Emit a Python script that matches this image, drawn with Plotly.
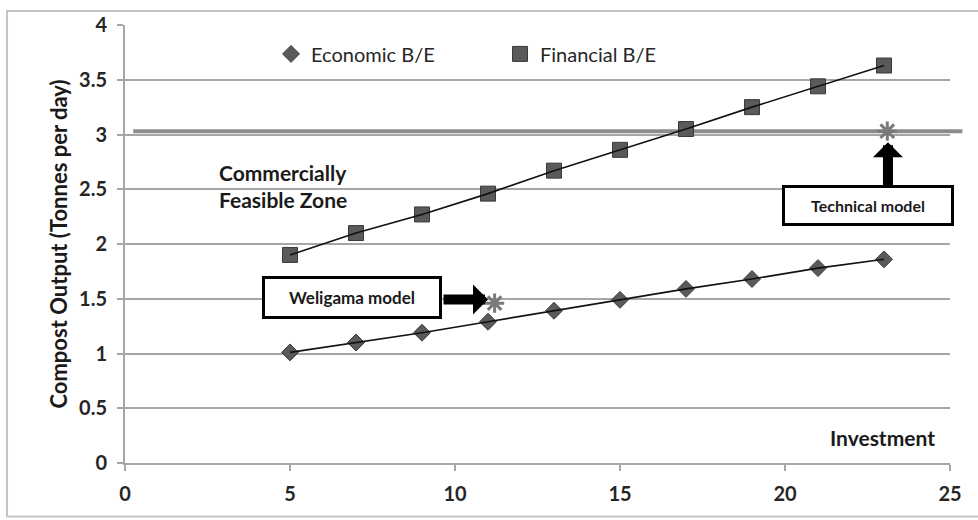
import plotly.graph_objects as go

# Investment levels and break-even compost outputs (tonnes per day)
investment = [5, 7, 9, 11, 13, 15, 17, 19, 21, 23]
economic_be = [1.01, 1.10, 1.19, 1.29, 1.39, 1.49, 1.59, 1.68, 1.78, 1.86]
financial_be = [1.90, 2.10, 2.27, 2.46, 2.67, 2.86, 3.05, 3.25, 3.44, 3.63]

# Reference models
weligama_x, weligama_y = [11.2], [1.46]
technical_x, technical_y = [23.1], [3.03]

# Technical capacity threshold
capacity_level = 3.03

y_ticks = [0, 0.5, 1, 1.5, 2, 2.5, 3, 3.5, 4]
y_tick_text = ["0", "0.5", "1", "1.5", "2", "2.5", "3", "3.5", "4"]
x_ticks = [0, 5, 10, 15, 20, 25]

FONT = "Lato"
GRID = "#a6a6a6"
MARK = "#5a5a5a"

fig = go.Figure()

fig.add_trace(go.Scatter(
    x=investment, y=economic_be, mode="markers", name="Economic B/E",
    marker=dict(symbol="diamond", size=13, color=MARK, line=dict(color="#3a3a3a", width=1)),
))
fig.add_trace(go.Scatter(
    x=investment, y=financial_be, mode="markers", name="Financial B/E",
    marker=dict(symbol="square", size=15, color=MARK, line=dict(color="#3a3a3a", width=1)),
))
# trend lines through each break-even series
fig.add_trace(go.Scatter(x=investment, y=economic_be, mode="lines", showlegend=False,
                         line=dict(color="#111111", width=1.6)))
fig.add_trace(go.Scatter(x=investment, y=financial_be, mode="lines", showlegend=False,
                         line=dict(color="#111111", width=1.6)))

# model points
fig.add_trace(go.Scatter(
    x=weligama_x + technical_x, y=weligama_y + technical_y, mode="markers", showlegend=False,
    marker=dict(symbol="asterisk-open", size=16, color="#7a7a7a",
                line=dict(color="#7a7a7a", width=3)),
))

shapes = [
    # capacity threshold band
    dict(type="line", xref="paper", yref="y", x0=0.01, x1=1.015,
         y0=capacity_level, y1=capacity_level, line=dict(color="#8c8c8c", width=4), layer="below"),
    # outer frame
    dict(type="rect", xref="paper", yref="paper", x0=-0.143, x1=1.05, y0=-0.122, y1=1.032,
         line=dict(color="#c4c4c4", width=2)),
]

annotations = [
    dict(x=2.8, y=2.53, xref="x", yref="y", xanchor="left", yanchor="middle", align="left",
         text="<b>Commercially<br>Feasible Zone</b>", showarrow=False,
         font=dict(family=FONT, size=21, color="#1a1a1a")),
    dict(x=24.6, y=0.23, xref="x", yref="y", xanchor="right", yanchor="middle",
         text="<b>Investment</b>", showarrow=False,
         font=dict(family=FONT, size=21, color="#1a1a1a")),
    # model call-out boxes
    dict(x=6.89, y=1.51, xref="x", yref="y", text="<b>Weligama model</b>", showarrow=False,
         width=172, height=35, borderwidth=3, bordercolor="#000000", borderpad=1,
         bgcolor="#ffffff", font=dict(family=FONT, size=17, color="#1a1a1a")),
    dict(x=22.5, y=2.353, xref="x", yref="y", text="<b>Technical model</b>", showarrow=False,
         width=164, height=33, borderwidth=3, bordercolor="#000000", borderpad=1,
         bgcolor="#ffffff", font=dict(family=FONT, size=16, color="#1a1a1a")),
    # arrows
    dict(x=11.0, y=1.493, xref="x", yref="y", ax=-46, ay=0, text="", showarrow=True,
         arrowhead=1, arrowwidth=10, arrowsize=0.5, arrowcolor="#000000", standoff=0),
    dict(x=23.12, y=2.93, xref="x", yref="y", ax=0, ay=45, text="", showarrow=True,
         arrowhead=1, arrowwidth=10, arrowsize=0.5, arrowcolor="#000000", standoff=0),
]

fig.update_layout(
    width=978, height=520,
    margin=dict(l=125, r=28, t=21, b=57),
    paper_bgcolor="#ffffff", plot_bgcolor="#ffffff",
    font=dict(family=FONT, color="#222222"),
    shapes=shapes, annotations=annotations,
    legend=dict(orientation="h", x=0.177, y=0.934, xanchor="left", yanchor="middle",
                entrywidth=184, entrywidthmode="pixels", bgcolor="rgba(0,0,0,0)",
                font=dict(family=FONT, size=20, color="#262626"), itemclick=False),
    xaxis=dict(range=[0, 25], tickvals=x_ticks, showgrid=False, zeroline=False,
               showline=True, linecolor=GRID, linewidth=2,
               ticks="outside", ticklen=6, tickcolor=GRID, tickwidth=1.5,
               ticklabelstandoff=6,
               tickfont=dict(family=FONT, size=20, color="#262626", weight="bold")),
    yaxis=dict(range=[0, 4], tickvals=y_ticks, ticktext=y_tick_text,
               showgrid=True, gridcolor=GRID, gridwidth=2, zeroline=False,
               showline=True, linecolor=GRID, linewidth=2,
               ticks="outside", ticklen=6, tickcolor=GRID, tickwidth=2,
               ticklabelstandoff=6,
               tickfont=dict(family=FONT, size=20, color="#262626", weight="bold"),
               title=dict(text="<b>Compost Output (Tonnes per day)</b>", standoff=5,
                          font=dict(family=FONT, size=22, color="#1a1a1a"))),
)

fig.write_html("out.html")
